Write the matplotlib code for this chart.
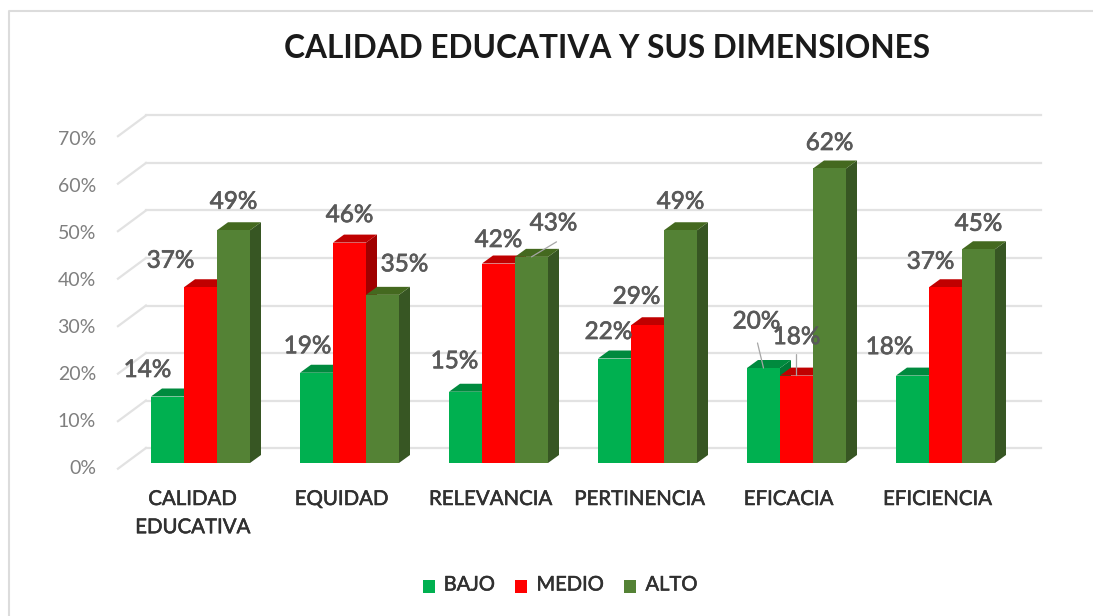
import numpy as np
import matplotlib
matplotlib.use("Agg")
import matplotlib.pyplot as plt
import matplotlib.patheffects as pe
from matplotlib.patches import Polygon, Patch

CATEGORIES = ["CALIDAD\nEDUCATIVA", "EQUIDAD", "RELEVANCIA", "PERTINENCIA", "EFICACIA", "EFICIENCIA"]
BAJO  = [14, 19, 15, 22, 20, 18.4]
MEDIO = [37, 46.4, 42, 29, 18.4, 37]
ALTO  = [49, 35.4, 43.4, 49, 62, 45]
SERIES_NAMES = ["BAJO", "MEDIO", "ALTO"]
Y_TICKS = [0, 10, 20, 30, 40, 50, 60, 70]

FRONT = ["#00b050", "#ff0000", "#548235"]
TOP   = ["#008a3e", "#c00000", "#44691f"]
SIDE  = ["#007a36", "#a00000", "#375623"]
GRID  = "#e2e2e2"
LABEL = "#595959"
FONT  = "Lato"

# label offsets from the bar top, pixels (hand placed in the original too)
LABEL_DX = [[-20, -30, 0], [-9, 0, 22], [-11, 0, 22], [-6, -11, 0], [-7, 0, 0], [-23, -15, 0]]
LABEL_DY = [[26, 26, 28], [26, 27, 30], [30, 23, 33], [26, 28, 28], [46, 38, 25], [28, 25, 25]]

W, H = 1093, 616
PX_X = 149.0            # px per category
PX_Y = 4.75             # px per percent
BAR = 33 / PX_X         # bar width in category units
DX, DY = 11 / PX_X, 8 / PX_Y        # bar depth
WX, WY = 28 / PX_X, 15 / PX_Y       # back wall offset


def thick(color, w=0.5):
    return [pe.withStroke(linewidth=w, foreground=color)]


fig = plt.figure(figsize=(W / 100, H / 100), dpi=100, facecolor="white")
# axes spans the whole figure, limits line up category 0 and 0% with the picture
ax = fig.add_axes([0, 0, 1, 1])
ax.set_xlim(-200.5 / PX_X, (W - 200.5) / PX_X)
ax.set_ylim(-(H - 463) / PX_Y, 463 / PX_Y)
ax.axis("off")

# frame, open on the right
fig.add_artist(plt.Line2D([9 / W, 9 / W, 1], [0, 1 - 11 / H, 1 - 11 / H],
                          color="#dcdcdc", lw=1.5))

fig.text(607 / W, 1 - 48 / H, "CALIDAD EDUCATIVA Y SUS DIMENSIONES", fontsize=22.8,
         fontweight="bold", family=FONT, color="#1a1a1a", ha="center", va="center")

# wall gridlines and the slanted floor ticks
x0, x1 = -0.554, 5.64
for v in Y_TICKS:
    ax.plot([x0 + WX, x1], [v + WY, v + WY], color=GRID, lw=1.6, zorder=1)
    ax.plot([x0, x0 + WX], [v - 1.2, v + WY], color=GRID, lw=1.6, zorder=1)
    ax.annotate(f"{v}%", xy=(x0, v), xytext=(-22, -5.5 - 0.043 * v), textcoords="offset pixels",
                ha="right", va="center", fontsize=14, family=FONT, color="#7f7f7f")

values = [BAJO, MEDIO, ALTO]
z = 2
for i in range(len(CATEGORIES)):
    for j in range(3):
        v = values[j][i]
        left = i + (j - 1.5) * BAR
        right = left + BAR
        ax.add_patch(Polygon([(right, 0), (right + DX, DY), (right + DX, v + DY), (right, v)],
                             fc=SIDE[j], ec="none", zorder=z))
        ax.add_patch(Polygon([(left, v), (left + DX, v + DY), (right + DX, v + DY), (right, v)],
                             fc=TOP[j], ec="none", zorder=z))
        ax.bar(left, v, BAR, align="edge", color=FRONT[j], zorder=z + 1)
        z += 2

# leader lines
for i, j, sx, sy in [(2, 2, 25, 15), (4, 0, -6, 25), (4, 1, 0, 21)]:
    v = values[j][i]
    xc = i + (j - 1) * BAR
    ax.annotate("", xy=(xc, v), xytext=(sx, sy), textcoords="offset pixels",
                arrowprops=dict(arrowstyle="-", color="#a6a6a6", lw=0.9,
                                shrinkA=0, shrinkB=0), zorder=z)

for i in range(len(CATEGORIES)):
    for j in range(3):
        ax.annotate(f"{values[j][i]:.0f}%", xy=(i + (j - 1) * BAR, values[j][i]),
                    xytext=(LABEL_DX[i][j], LABEL_DY[i][j]), textcoords="offset pixels",
                    ha="center", va="center", fontsize=17.5, family=FONT, color=LABEL,
                    zorder=z + 1, path_effects=thick(LABEL))
    ax.text(i - 8 / PX_X, -(491 - 463) / PX_Y, CATEGORIES[i], ha="center", va="top",
            fontsize=14.7, family=FONT, color="#303030", linespacing=1.8,
            path_effects=thick("#303030", 0.4))

handles = [Patch(fc=c, ec="none") for c in FRONT]
leg = fig.legend(handles, SERIES_NAMES, loc="center", bbox_to_anchor=(560 / W, 1 - 585 / H), ncol=3,
                 frameon=False, handlelength=0.6, handleheight=0.6,
                 handletextpad=0.45, columnspacing=1.0,
                 prop=dict(family=FONT, size=14.5))
for t in leg.get_texts():
    t.set_color("#303030")
    t.set_path_effects(thick("#303030", 0.4))
# squares sit a little below the text
for p in leg.get_patches():
    p.set_y(p.get_y() - 2)

fig.savefig("out.png", dpi=100, facecolor="white")
